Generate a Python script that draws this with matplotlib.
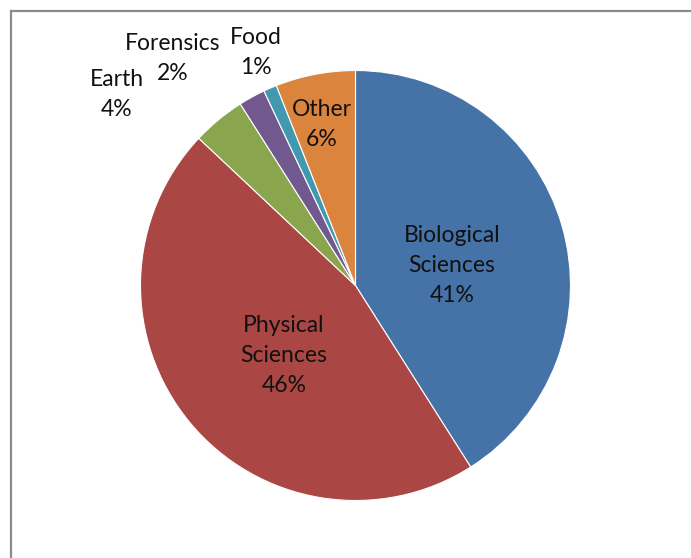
import matplotlib
matplotlib.use("Agg")
import matplotlib.pyplot as plt
from matplotlib.patches import Rectangle

categories = ["Biological\nSciences", "Physical\nSciences", "Earth", "Forensics", "Food", "Other"]
values = [41, 46, 4, 2, 1, 6]
colors = ["#4572A7", "#AA4643", "#89A54E", "#71588F", "#4198AF", "#DB843D"]

W, H = 691, 558
fig = plt.figure(figsize=(W / 100, H / 100), dpi=100)
ax = fig.add_axes([0, 0, 1, 1])

cx, cy, r = 355.5, 285.5, 215

wedges, _ = ax.pie(values, colors=colors, startangle=90, counterclock=False,
                   center=(cx, H - cy), radius=r, frame=True,
                   wedgeprops=dict(edgecolor="white", linewidth=0.8))
ax.set_xlim(0, W)
ax.set_ylim(0, H)
ax.set_aspect("equal")
ax.axis("off")

label_pos = [(452, 265), (284, 355), (117, 95), (173, 58), (256, 52), (322, 125)]
line_gap = 30
for cat, v, (x, y) in zip(categories, values, label_pos):
    lines = cat.split("\n") + [f"{v}%"]
    n = len(lines)
    for i, line in enumerate(lines):
        ly = y + (i - (n - 1) / 2) * line_gap
        ax.text(x, H - ly, line, ha="center", va="center",
                fontsize=16.5, family="Lato", color="#111111")

fig.patches.append(Rectangle((11 / W, -0.1), 1.2, 1.1 - 11 / H, transform=fig.transFigure,
                             fill=False, edgecolor="#8a8a8a", linewidth=1.6))

fig.savefig("out.png", dpi=100, facecolor="white")
